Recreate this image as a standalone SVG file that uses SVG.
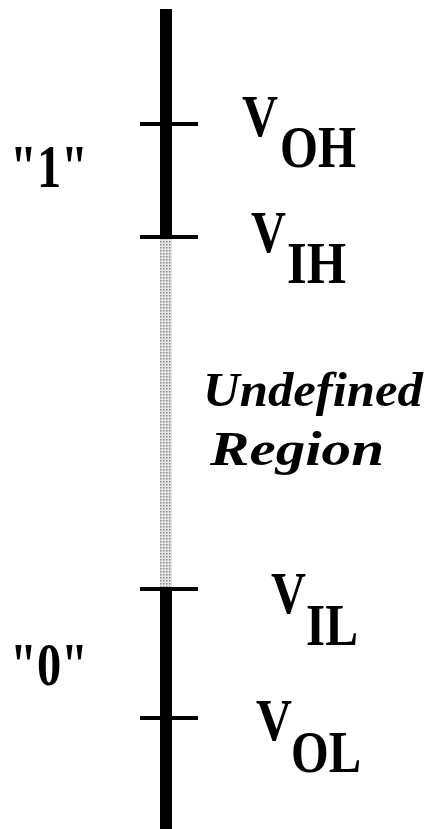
<svg xmlns="http://www.w3.org/2000/svg" width="433" height="829" viewBox="0 0 433 829">
<defs>
<pattern id="dots" width="3" height="3" patternUnits="userSpaceOnUse">
<rect width="3" height="3" fill="#e4e4e4"/>
<rect x="1" y="1" width="1.5" height="1.5" fill="#8a8a8a"/>
</pattern>
</defs>
<style>
text{font-family:'Liberation Serif',Tinos,'Times New Roman',Times,serif;font-weight:700;fill:#000}
.it{font-style:italic}
.tick{stroke:#000;stroke-width:4}
</style>
<rect width="433" height="829" fill="#fff"/>
<g id="axis">
<rect x="160" y="9" width="12" height="229" fill="#000"/>
<rect x="160" y="238" width="12" height="350" fill="url(#dots)"/>
<rect x="160" y="588" width="12" height="241" fill="#000"/>
</g>
<g id="ticks">
<line class="tick" x1="140" y1="124" x2="198" y2="124"/>
<line class="tick" x1="140" y1="237" x2="198" y2="237"/>
<line class="tick" x1="140" y1="589" x2="198" y2="589"/>
<line class="tick" x1="140" y1="718" x2="198" y2="718"/>
</g>
<g id="voh">
<text x="242" y="136" font-size="59" textLength="36" lengthAdjust="spacingAndGlyphs">V</text>
<text x="280" y="167" font-size="59" textLength="76" lengthAdjust="spacingAndGlyphs">OH</text>
</g>
<g id="vih">
<text x="251" y="252" font-size="59" textLength="35" lengthAdjust="spacingAndGlyphs">V</text>
<text x="287" y="283" font-size="59" textLength="59" lengthAdjust="spacingAndGlyphs">IH</text>
</g>
<g id="vil">
<text x="271" y="613" font-size="59" textLength="35" lengthAdjust="spacingAndGlyphs">V</text>
<text x="306" y="645" font-size="59" textLength="52" lengthAdjust="spacingAndGlyphs">IL</text>
</g>
<g id="vol">
<text x="256" y="740" font-size="59" textLength="36" lengthAdjust="spacingAndGlyphs">V</text>
<text x="291" y="772" font-size="59" textLength="70" lengthAdjust="spacingAndGlyphs">OL</text>
</g>
<g id="one">
<text x="10" y="187" font-size="62" textLength="78" lengthAdjust="spacingAndGlyphs">"1"</text>
</g>
<g id="zero">
<text x="10" y="685" font-size="62" textLength="78" lengthAdjust="spacingAndGlyphs">"0"</text>
</g>
<g id="undefined">
<text class="it" x="203" y="406" font-size="48" textLength="220" lengthAdjust="spacingAndGlyphs">Undefined</text>
<text class="it" x="210" y="465" font-size="48" textLength="174" lengthAdjust="spacingAndGlyphs">Region</text>
</g>
</svg>
